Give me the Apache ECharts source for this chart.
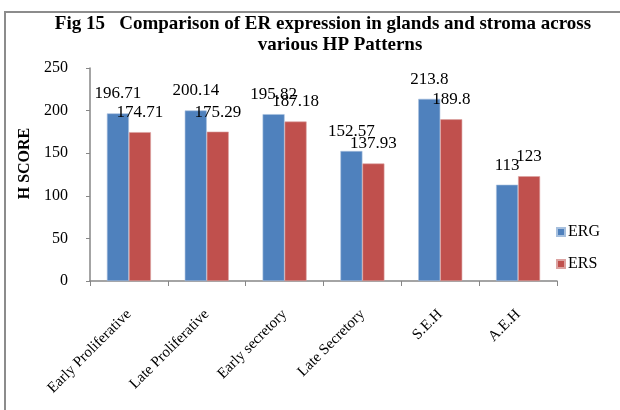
<!DOCTYPE html>
<html>
<head>
<meta charset="utf-8">
<script src="https://cdn.jsdelivr.net/npm/echarts@6/dist/echarts.min.js"></script>
<style>
  html, body { margin: 0; padding: 0; background: #fff; }
  #chart { width: 620px; height: 410px; }
</style>
</head>
<body>
<div id="chart"></div>
<script>
const patterns = ['Early Proliferative', 'Late Proliferative', 'Early secretory', 'Late Secretory', 'S.E.H', 'A.E.H']
const ergValues = [196.71, 200.14, 195.82, 152.57, 213.8, 113]
const ersValues = [174.71, 175.29, 187.18, 137.93, 189.8, 123]
const yTicks = { min: 0, max: 250, interval: 50 }

const serif = 'Liberation Serif, Times New Roman, serif'
const chart = echarts.init(document.getElementById('chart'))

const labelStyle = {
  show: true,
  position: 'top',
  distance: 11,
  fontFamily: serif,
  fontSize: 17,
  color: '#000'
}

const titleText = {
  fontFamily: serif,
  fontWeight: 'bold',
  fontSize: 19,
  color: '#000'
}

chart.setOption({
  animation: false,
  textStyle: { fontFamily: serif },
  graphic: [
    {
      type: 'rect',
      shape: { x: 5, y: 12, width: 630, height: 420 },
      style: { fill: 'none', stroke: '#8c8c8c', lineWidth: 2 }
    }
  ],
  title: [
    {
      text: 'Fig 15   Comparison of ER expression in glands and stroma across',
      left: 323,
      textAlign: 'center',
      top: 15,
      padding: 0,
      textStyle: titleText
    },
    {
      text: 'various HP Patterns',
      left: 340,
      textAlign: 'center',
      top: 36,
      padding: 0,
      textStyle: titleText
    }
  ],
  legend: {
    orient: 'vertical',
    left: 551,
    top: 219,
    itemWidth: 8,
    itemHeight: 8,
    itemGap: 16,
    icon: 'rect',
    textStyle: { fontFamily: serif, fontSize: 16, color: '#000', padding: [0, 0, 0, -2] },
    data: ['ERG', 'ERS']
  },
  grid: { left: 90, right: 63, top: 68, bottom: 129 },
  xAxis: {
    type: 'category',
    data: patterns,
    axisLine: { lineStyle: { color: '#868686', width: 1.5 } },
    axisTick: { show: true, length: 5, lineStyle: { color: '#868686' } },
    axisLabel: {
      rotate: 45,
      interval: 0,
      margin: 31,
      fontFamily: serif,
      fontSize: 15,
      color: '#000'
    }
  },
  yAxis: {
    type: 'value',
    min: yTicks.min,
    max: yTicks.max,
    interval: yTicks.interval,
    name: 'H SCORE',
    nameLocation: 'middle',
    nameGap: 52,
    nameTextStyle: { fontFamily: serif, fontWeight: 'bold', fontSize: 16, color: '#000', padding: [0, 0, 0, 22] },
    axisLine: { show: true, lineStyle: { color: '#868686', width: 1.5 } },
    axisTick: { show: true, length: 4, lineStyle: { color: '#868686' } },
    splitLine: { show: false },
    axisLabel: { fontFamily: serif, fontSize: 16, color: '#000', margin: 22 }
  },
  series: [
    {
      name: 'ERG',
      type: 'bar',
      data: ergValues,
      barWidth: 22,
      barGap: '0%',
      itemStyle: { color: '#4F81BD', borderColor: '#a7c0de', borderWidth: 0.6 },
      label: labelStyle
    },
    {
      name: 'ERS',
      type: 'bar',
      data: ersValues,
      barWidth: 22,
      itemStyle: { color: '#C0504D', borderColor: '#dca3a1', borderWidth: 0.6 },
      label: labelStyle
    }
  ]
})
</script>
</body>
</html>
